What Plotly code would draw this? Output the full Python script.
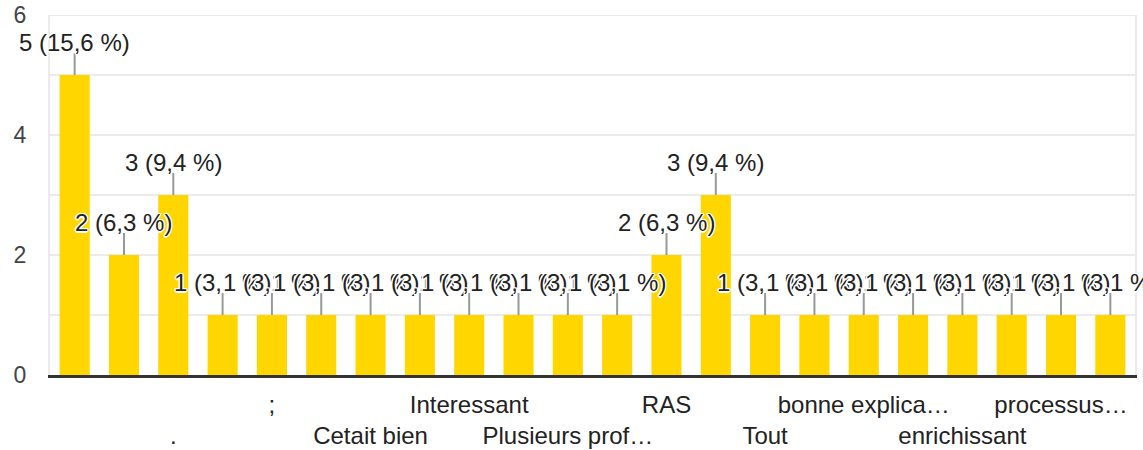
import plotly.graph_objects as go
from decimal import Decimal, ROUND_HALF_UP

# ---- data ----
counts = [5, 2, 3, 1, 1, 1, 1, 1, 1, 1, 1, 1, 2, 3, 1, 1, 1, 1, 1, 1, 1, 1]
x_labels = ["", "", ".", "", ";", "", "Cetait bien", "", "Interessant", "",
            "Plusieurs prof…", "", "RAS", "", "Tout", "", "bonne explica…", "",
            "enrichissant", "", "processus…", ""]
y_ticks = [0, 1, 2, 3, 4, 5, 6]
y_ticktext = ["0", "", "2", "", "4", "", "6"]

total = sum(counts)
xs = list(range(len(counts)))

BAR = "#FFD600"
FONT = "Liberation Sans, Arial, sans-serif"
halo = ("-1.5px 0 0 #fff, 1.5px 0 0 #fff, 0 -1.5px 0 #fff, 0 1.5px 0 #fff, "
        "-1px -1px 0 #fff, 1px 1px 0 #fff, -1px 1px 0 #fff, 1px -1px 0 #fff")

fig = go.Figure()
fig.add_trace(go.Bar(x=xs, y=counts, marker=dict(color=BAR, line=dict(width=0)),
                     hoverinfo="skip"))

# tick labels: shown on every other category, alternating two rows
tickvals, ticktext = [], []
row = 0
for i, lab in enumerate(x_labels):
    if i % 2 == 0:
        tickvals.append(i)
        ticktext.append(lab if row == 0 else "<br>" + lab)
        row = 1 - row

annotations = []
# top grid line (at the top of the y range)
shapes = [dict(type="line", xref="paper", yref="y", x0=0, x1=1,
               y0=y_ticks[-1], y1=y_ticks[-1],
               line=dict(color="#ebebeb", width=2), layer="below")]
for i, v in enumerate(counts):
    pct = Decimal(v * 100) / Decimal(total)
    pct = str(pct.quantize(Decimal("0.1"), rounding=ROUND_HALF_UP)).replace(".", ",")
    shapes.append(dict(type="line", xref="x", yref="y", ysizemode="pixel",
                       yanchor=v, x0=i, x1=i, y0=0, y1=22,
                       line=dict(color="#999999", width=2), layer="above"))
    annotations.append(dict(x=i, y=v, xref="x", yref="y", text=f"{v} ({pct} %)",
                            showarrow=False, xanchor="center", yanchor="middle",
                            yshift=33,
                            font=dict(family=FONT, size=24, color="#222222",
                                      shadow=halo)))

fig.update_layout(
    width=1143, height=450,
    margin=dict(l=50, r=8, t=15, b=75),
    paper_bgcolor="white", plot_bgcolor="white",
    bargap=0.39, showlegend=False,
    shapes=shapes, annotations=annotations,
    xaxis=dict(range=[-0.5, len(counts) - 0.5], tickvals=tickvals, ticktext=ticktext,
               tickangle=0, automargin=False, ticklabeloverflow="allow",
               showgrid=False, zeroline=False, showline=True, linecolor="#333333",
               linewidth=3, ticks="", ticklabelstandoff=6,
               tickfont=dict(family=FONT, size=24, color="#222222")),
    yaxis=dict(range=[0, 6], tickvals=y_ticks, ticktext=y_ticktext, automargin=False,
               ticklabeloverflow="allow",
               showgrid=True, gridcolor="#ebebeb", gridwidth=2, zeroline=False,
               showline=True, linecolor="#ebebeb", linewidth=2, mirror=True,
               ticks="", ticklabelstandoff=17,
               tickfont=dict(family=FONT, size=23, color="#444444")),
)

# remove the default page margin so the figure fills the window from (0, 0)
fig.write_html("out.html", config={"displayModeBar": False},
               post_script="document.body.style.margin='0';document.body.style.overflow='hidden';")
